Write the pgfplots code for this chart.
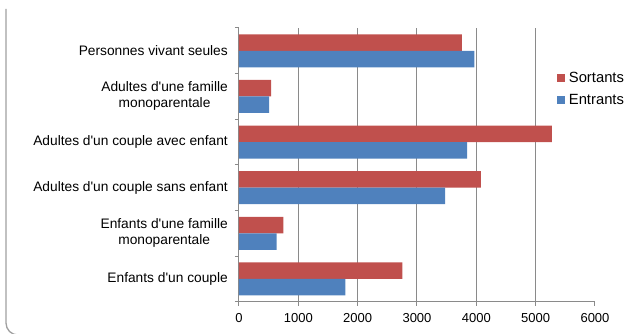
\documentclass[border=0pt]{standalone}
\usepackage{pgfplots}
\pgfplotsset{compat=1.18}
\usepackage{fontspec}
\setmainfont{Liberation Sans}
\definecolor{sortcol}{HTML}{C0504D}
\definecolor{entrcol}{HTML}{4F81BD}
\definecolor{gridcol}{HTML}{8A8A8A}
\definecolor{framecol}{HTML}{A0A0A0}
\begin{document}
\begin{tikzpicture}[x=1pt,y=1pt]
\useasboundingbox (0,0) rectangle (625,334);
% rounded frame around the chart area
\draw[framecol, line width=1.3pt] (6,325) -- (6,11) arc[start angle=180,end angle=270,radius=12] -- (700,-1);
\begin{axis}[
  at={(239pt,32.3pt)}, anchor=south west,
  scale only axis, width=356pt, height=273.7pt,
  xmin=0, xmax=6000, ymin=-0.5, ymax=5.5,
  axis x line*=bottom, axis y line*=left,
  axis line style={gridcol, line width=1pt, -},
  tick align=outside,
  major tick length=0pt, minor tick length=4pt,
  tick style={gridcol, line width=1pt},
  xtick={0,1000,...,6000},
  minor xtick={0,1000,...,6000},
  extra x ticks={1000,2000,3000,4000,5000},
  extra x tick labels={},
  extra x tick style={grid=major},
  major grid style={gridcol, line width=1pt},
  ytick={0,1,2,3,4,5},
  minor ytick={-0.5,0.5,...,5.5},
  yticklabels={
    Enfants d\textquotesingle un couple,
    {Enfants d\textquotesingle une famille\\monoparentale},
    Adultes d\textquotesingle un couple sans enfant,
    Adultes d\textquotesingle un couple avec enfant,
    {Adultes d\textquotesingle une famille\\monoparentale},
    Personnes vivant seules},
  yticklabel style={font=\fontsize{13.75}{16}\selectfont, align=center, anchor=east, inner sep=0pt, xshift=-11pt},
  xticklabel style={font=\fontsize{13}{15}\selectfont, anchor=north, inner sep=0pt, yshift=-11.6pt},
  /pgf/number format/assume math mode=true,
  /pgf/number format/1000 sep={},
  xbar, bar width=16.5pt,
  legend style={at={(0.8924,0.7777)}, anchor=west, draw=none, fill=none,
    font=\fontsize{14.8}{17}\selectfont, inner sep=0pt, row sep=10pt,
    nodes={inner sep=0pt},
    cells={anchor=west},
    /tikz/every odd column/.append style={column sep=4pt}},
]
\addplot[fill=sortcol, draw=none, bar shift=8.25pt,
  legend image code/.code={\fill[sortcol] (0pt,-4pt) rectangle (8pt,4pt);}]
  coordinates {(2754,0) (747,1) (4076,2) (5273,3) (540,4) (3755,5)};
\addplot[fill=entrcol, draw=none, bar shift=-8.25pt,
  legend image code/.code={\fill[entrcol] (0pt,-4pt) rectangle (8pt,4pt);}]
  coordinates {(1793,0) (636,1) (3474,2) (3845,3) (506,4) (3968,5)};
\legend{Sortants, Entrants}
\end{axis}
\end{tikzpicture}
\end{document}
